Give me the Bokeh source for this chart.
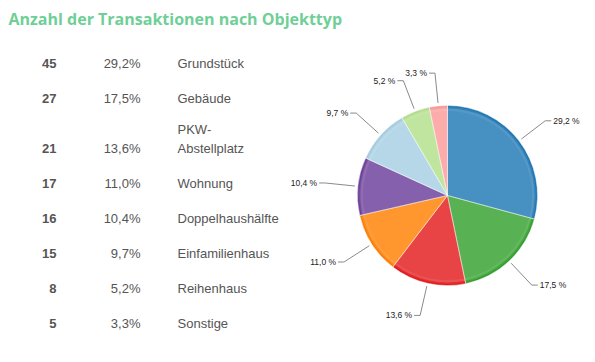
import math
from bokeh.plotting import figure
from bokeh.models import Range1d
from bokeh.core.properties import value
from bokeh.embed import file_html
from bokeh.resources import INLINE

# ---- data ----
title = "Anzahl der Transaktionen nach Objekttyp"
counts = [45, 27, 21, 17, 16, 15, 8, 5]
percents = ["29,2%", "17,5%", "13,6%", "11,0%", "10,4%", "9,7%", "5,2%", "3,3%"]
pie_labels = ["29,2 %", "17,5 %", "13,6 %", "11,0 %", "10,4 %", "9,7 %", "5,2 %", "3,3 %"]
names = ["Grundstück", "Gebäude", "PKW-\nAbstellplatz", "Wohnung",
         "Doppelhaushälfte", "Einfamilienhaus", "Reihenhaus", "Sonstige"]
colors = ["#1f78b4", "#33a02c", "#e31a1c", "#ff7f00",
          "#6a3d9a", "#a6cee3", "#b2df8a", "#fb9a99"]

W, H = 595, 362
PAGE_H = 362


def Y(py):
    return PAGE_H - py


def mix(c, t, f):
    c = c.lstrip("#")
    r, g, b = int(c[0:2], 16), int(c[2:4], 16), int(c[4:6], 16)
    r = round(r + (t[0] - r) * f)
    g = round(g + (t[1] - g) * f)
    b = round(b + (t[2] - b) * f)
    return "#%02x%02x%02x" % (r, g, b)


WHITE = (255, 255, 255)
BLACK = (0, 0, 0)

p = figure(width=W, height=H, output_backend="svg", toolbar_location=None,
           x_range=Range1d(0, W), y_range=Range1d(Y(H), Y(0)),
           min_border=0, outline_line_color=None)
p.axis.visible = False
p.grid.visible = False
p.background_fill_color = "white"
p.border_fill_color = "white"

# title
p.text(x=[8], y=[Y(18)], text=[title], text_font=value("Open Sans"),
       text_font_style="bold", text_font_size="16px", text_color="#6fcf97",
       text_baseline="middle", text_align="left")

# table
font = value("Liberation Sans")
row_y = []
extra = 0
for i, n in enumerate(names):
    lines = n.split("\n")
    extra += 15 * (len(lines) - 1)
    row_y.append(63 + 35 * i + extra)

p.text(x=[56] * len(counts), y=[Y(v) for v in row_y], text=[str(c) for c in counts],
       text_font=font, text_font_style="bold", text_font_size="13px",
       text_color="#555555", text_align="right", text_baseline="middle")
p.text(x=[140] * len(percents), y=[Y(v) for v in row_y], text=percents,
       text_font=font, text_font_size="13px",
       text_color="#555555", text_align="right", text_baseline="middle")
nx, ny, nt = [], [], []
for n, yy in zip(names, row_y):
    lines = n.split("\n")
    for k, ln in enumerate(lines):
        nx.append(177)
        ny.append(Y(yy - 19 * (len(lines) - 1 - k)))
        nt.append(ln)
p.text(x=nx, y=ny, text=nt, text_font=font, text_font_size="13px",
       text_color="#555555", text_align="left", text_baseline="middle")

# pie
cx, cy, R = 447, Y(195), 90
total = sum(counts)
starts, ends, mids = [], [], []
acc = 0
for c in counts:
    a0 = math.pi / 2 - 2 * math.pi * acc / total
    acc += c
    a1 = math.pi / 2 - 2 * math.pi * acc / total
    starts.append(a0)
    ends.append(a1)
    mids.append((a0 + a1) / 2)

layers = [
    (R, [mix(c, BLACK, 0.03) for c in colors]),
    (R - 1.5, [mix(c, WHITE, 0.08) for c in colors]),
    (R - 3, [mix(c, WHITE, 0.24) for c in colors]),
    (R - 5.5, [mix(c, WHITE, 0.18) for c in colors]),
]
for rad, cols in layers:
    p.wedge(x=cx, y=cy, radius=rad, start_angle=starts, end_angle=ends,
            direction="clock", fill_color=cols, line_color=None)
p.wedge(x=cx, y=cy, radius=R, start_angle=starts, end_angle=ends,
        direction="clock", fill_color=None, line_color="white",
        line_alpha=0.6, line_width=0.7)

# leader lines and labels
xs, ys, lx, ly, la, lt = [], [], [], [], [], []
for m, lab in zip(mids, pie_labels):
    dx, dy = math.cos(m), math.sin(m)
    x0, y0 = cx + 93 * dx, cy + 93 * dy
    x1, y1 = cx + 123 * dx, cy + 123 * dy
    side = 1 if dx >= 0 else -1
    x2 = x1 + 6 * side
    xs.append([x0, x1, x2])
    ys.append([y0, y1, y1])
    lx.append(x2 + 2 * side)
    ly.append(y1)
    la.append("left" if side > 0 else "right")
    lt.append(lab)
p.multi_line(xs=xs, ys=ys, line_color="#8a8a8a", line_width=1)
p.text(x=lx, y=ly, text=lt, text_align=la, text_baseline="middle",
       text_font=font, text_font_size="8.5px", text_color="#222222")

open("out.html", "w").write(file_html(p, INLINE))
